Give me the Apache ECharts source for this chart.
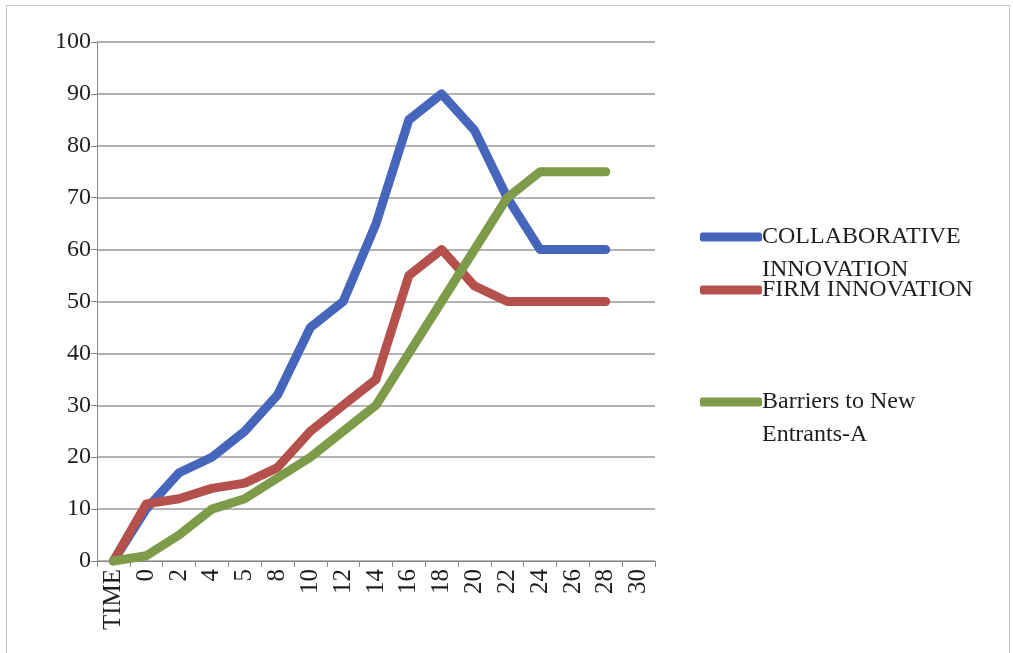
<!DOCTYPE html>
<html>
<head>
<meta charset="utf-8">
<script src="https://cdn.jsdelivr.net/npm/echarts@6/dist/echarts.min.js"></script>
<style>
    html, body { margin: 0; padding: 0; background: #fff; }
    #frame { position: absolute; left: 6px; top: 5px; width: 1002px; height: 660px; border: 1px solid #c8c8c8; }
    #chart { width: 1013px; height: 653px; }
</style>
</head>
<body>
<div id="frame"></div>
<div id="chart"></div>
<script>
// 横轴类目
const categories = ["TIME", "0", "2", "4", "5", "8", "10", "12", "14", "16", "18", "20", "22", "24", "26", "28", "30"];
// 各系列数值
const collaborative = [0, 10, 17, 20, 25, 32, 45, 50, 65, 85, 90, 83, 70, 60, 60, 60, null];
const firm = [0, 11, 12, 14, 15, 18, 25, 30, 35, 55, 60, 53, 50, 50, 50, 50, null];
const barriers = [0, 1, 5, 10, 12, 16, 20, 25, 30, 40, 50, 60, 70, 75, 75, 75, null];

const font = "Liberation Serif";
const textColor = "#1e1e1e";

// 图例：两行文字时首行与图标对齐（前面补一空行）
function legendAt(name, iconY, twoLines) {
    const lh = 33;
    return {
        data: [name],
        orient: "vertical",
        left: 695,
        top: twoLines ? iconY - 5 - lh * 1.5 : iconY - 5 - lh / 2,
        itemWidth: 62,
        itemHeight: 9,
        icon: "roundRect",
        itemGap: 0,
        formatter: n => twoLines ? "\n" + n : n,
        textStyle: {
            fontFamily: font, fontSize: 24, color: textColor, lineHeight: lh,
            padding: [0, 0, 0, -5]
        }
    };
}

const chart = echarts.init(document.getElementById("chart"));
chart.setOption({
    animation: false,
    legend: [
        legendAt("COLLABORATIVE\nINNOVATION", 237, true),
        legendAt("FIRM INNOVATION", 290, false),
        legendAt("Barriers to New\nEntrants-A", 402, true)
    ],
    grid: {left: 97, right: 358, top: 42, bottom: 92},
    xAxis: {
        type: "category",
        data: categories,
        boundaryGap: true,
        axisLine: {lineStyle: {color: "#888", width: 1}},
        axisTick: {show: true, length: 6, lineStyle: {color: "#888"}},
        axisLabel: {rotate: 90, fontFamily: font, fontSize: 25, color: textColor, margin: 8, interval: 0}
    },
    yAxis: {
        type: "value",
        min: 0,
        max: 100,
        interval: 10,
        axisLine: {show: true, lineStyle: {color: "#888", width: 1}},
        axisTick: {show: true, length: 6, lineStyle: {color: "#888"}},
        axisLabel: {fontFamily: font, fontSize: 24, color: textColor, margin: 6},
        splitLine: {lineStyle: {color: "#9a9a9a", width: 1.5}}
    },
    series: [
        {name: "COLLABORATIVE\nINNOVATION", type: "line", data: collaborative, color: "#4566BA",
            showSymbol: false, lineStyle: {width: 9, join: "round", cap: "round"}},
        {name: "FIRM INNOVATION", type: "line", data: firm, color: "#B5514C",
            showSymbol: false, lineStyle: {width: 9, join: "round", cap: "round"}},
        {name: "Barriers to New\nEntrants-A", type: "line", data: barriers, color: "#7E9B49",
            showSymbol: false, lineStyle: {width: 9, join: "round", cap: "round"}}
    ]
});
</script>
</body>
</html>
